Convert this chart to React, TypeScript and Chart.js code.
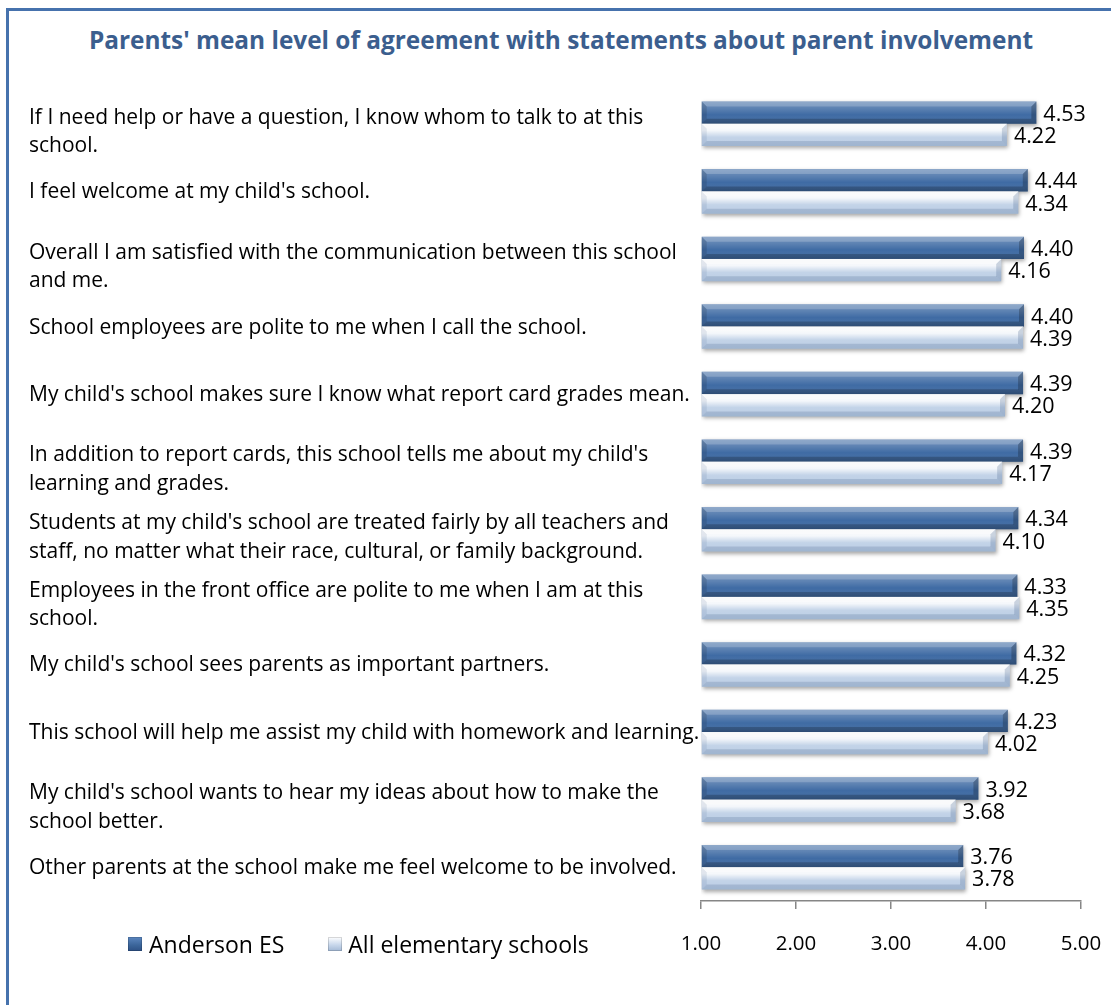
import React, { useEffect, useRef } from "react";
import { Chart, registerables } from "chart.js";
Chart.register(...registerables);

const titleText = "Parents' mean level of agreement with statements about parent involvement";
const seriesNames = ["Anderson ES", "All elementary schools"];
const categories: (string | string[])[] = [
  ["If I need help or have a question, I know whom to talk to at this", "school."],
  "I feel welcome at my child's school.",
  ["Overall I am satisfied with the communication between this school", "and me."],
  "School employees are polite to me when I call the school.",
  "My child's school makes sure I know what report card grades mean.",
  ["In addition to report cards, this school tells me about my child's", "learning and grades."],
  ["Students at my child's school are treated fairly by all teachers and", "staff, no matter what their race, cultural, or family background."],
  ["Employees in the front office are polite to me when I am at this", "school."],
  "My child's school sees parents as important partners.",
  "This school will help me assist my child with homework and learning.",
  ["My child's school wants to hear my ideas about how to make the", "school better."],
  "Other parents at the school make me feel welcome to be involved.",
];
const andersonValues = [4.53, 4.44, 4.4, 4.4, 4.39, 4.39, 4.34, 4.33, 4.32, 4.23, 3.92, 3.76];
const allSchoolsValues = [4.22, 4.34, 4.16, 4.39, 4.2, 4.17, 4.1, 4.35, 4.25, 4.02, 3.68, 3.78];
const xTickValues = [1, 2, 3, 4, 5];

const FONT = "'Open Sans', 'DejaVu Sans', sans-serif";
const DARK = "#3f6ba4";
const LIGHT = "#b9cce4";

const bevelPlugin = {
  id: "bevel",
  beforeDatasetsDraw(chart: any) {
    const ctx = chart.ctx;
    ctx.save();
    ctx.shadowColor = "rgba(0,0,0,0.35)";
    ctx.shadowBlur = 4;
    ctx.shadowOffsetX = 1;
    ctx.shadowOffsetY = 2;
  },
  afterDatasetsDraw(chart: any) {
    const ctx = chart.ctx;
    ctx.restore();
    chart.data.datasets.forEach((ds: any, di: number) => {
      const meta = chart.getDatasetMeta(di);
      const dark = di === 0;
      meta.data.forEach((el: any, i: number) => {
        const p = el.getProps(["x", "y", "base", "height"], true);
        const l = Math.min(p.base, p.x);
        const r = Math.max(p.base, p.x);
        const t = p.y - p.height / 2;
        const b = p.y + p.height / 2;
        const bv = 5;
        ctx.save();
        const g = ctx.createLinearGradient(0, t, 0, b);
        if (dark) {
          g.addColorStop(0, "rgba(255,255,255,0.28)");
          g.addColorStop(0.3, "rgba(255,255,255,0.16)");
          g.addColorStop(0.6, "rgba(255,255,255,0.0)");
          g.addColorStop(1, "rgba(0,0,0,0.12)");
        } else {
          g.addColorStop(0, "rgba(255,255,255,0.95)");
          g.addColorStop(0.3, "rgba(255,255,255,0.85)");
          g.addColorStop(0.6, "rgba(255,255,255,0.15)");
          g.addColorStop(1, "rgba(255,255,255,0.0)");
        }
        ctx.fillStyle = g;
        ctx.fillRect(l, t, r - l, b - t);
        // top bevel
        ctx.beginPath();
        ctx.moveTo(l, t); ctx.lineTo(r, t); ctx.lineTo(r - bv, t + bv); ctx.lineTo(l + bv, t + bv); ctx.closePath();
        ctx.fillStyle = dark ? "rgba(255,255,255,0.2)" : "rgba(255,255,255,0.3)";
        ctx.fill();
        // bottom bevel
        ctx.beginPath();
        ctx.moveTo(l, b); ctx.lineTo(r, b); ctx.lineTo(r - bv, b - bv); ctx.lineTo(l + bv, b - bv); ctx.closePath();
        ctx.fillStyle = dark ? "rgba(0,0,0,0.2)" : "rgba(60,90,130,0.2)";
        ctx.fill();
        // left bevel
        ctx.beginPath();
        ctx.moveTo(l, t); ctx.lineTo(l + bv, t + bv); ctx.lineTo(l + bv, b - bv); ctx.lineTo(l, b); ctx.closePath();
        ctx.fillStyle = dark ? "rgba(0,0,0,0.12)" : "rgba(70,100,140,0.12)";
        ctx.fill();
        // right bevel
        ctx.beginPath();
        ctx.moveTo(r, t); ctx.lineTo(r - bv, t + bv); ctx.lineTo(r - bv, b - bv); ctx.lineTo(r, b); ctx.closePath();
        ctx.fillStyle = dark ? "rgba(0,0,0,0.22)" : "rgba(70,100,140,0.25)";
        ctx.fill();
        ctx.restore();
        // value label
        ctx.save();
        ctx.font = `21.5px ${FONT}`;
        ctx.fillStyle = "#000";
        ctx.textAlign = "left";
        ctx.textBaseline = "middle";
        ctx.fillText(Number(ds.data[i]).toFixed(2), r + 7, p.y + 2);
        ctx.restore();
      });
    });
  },
};

function Marker({ dark }: { dark: boolean }) {
  return (
    <span
      style={{
        display: "inline-block",
        width: 14,
        height: 14,
        background: dark
          ? "linear-gradient(#5b86bf, #3a6499 60%, #2c5084)"
          : "linear-gradient(#ffffff, #c9d8ec 55%, #a3b9d6)",
        boxShadow: "inset 0 0 0 1px rgba(0,0,0,0.15)",
      }}
    />
  );
}

export default function App() {
  const ref = useRef<HTMLCanvasElement | null>(null);
  useEffect(() => {
    if (!ref.current) return;
    const chart = new Chart(ref.current, {
      type: "bar",
      data: {
        labels: categories,
        datasets: [
          { label: seriesNames[0], data: andersonValues, backgroundColor: DARK, base: 1 } as any,
          { label: seriesNames[1], data: allSchoolsValues, backgroundColor: LIGHT, base: 1 } as any,
        ],
      },
      options: {
        indexAxis: "y",
        responsive: false,
        animation: false,
        events: [],
        layout: { padding: { left: 29, right: 30, top: 90, bottom: 0 } },
        datasets: { bar: { categoryPercentage: 0.66, barPercentage: 1.0 } },
        plugins: {
          legend: { display: false },
          title: { display: false },
          tooltip: { enabled: false },
        },
        scales: {
          x: {
            min: 1,
            max: 5,
            afterBuildTicks: (s: any) => {
              s.ticks = xTickValues.map((v) => ({ value: v }));
            },
            afterFit: (s: any) => {
              s.height = 104;
              s.paddingLeft = 0;
              s.paddingRight = 0;
            },
            ticks: {
              callback: (v: any) => Number(v).toFixed(2),
              font: { family: FONT, size: 20.5 },
              color: "#000",
              padding: 23,
              maxRotation: 0,
            },
            grid: { display: true, drawOnChartArea: false, drawTicks: true, tickLength: 8, color: "#868686", lineWidth: 1.5 },
            border: { display: true, color: "#868686", width: 1.5 },
          },
          y: {
            afterFit: (s: any) => {
              s.width = 672;
              s.paddingTop = 0;
              s.paddingBottom = 0;
              if (!s.__shifted) {
                const orig = s.drawLabels;
                s.drawLabels = function (area: any) {
                  const items = this.getLabelItems(area);
                  for (const it of items) {
                    if (!it.__adj) {
                      const tr = it.options.translation;
                      tr[1] += Array.isArray(it.label) ? 8 : 1;
                      it.__adj = true;
                    }
                  }
                  orig.call(this, area);
                };
                s.__shifted = true;
              }
            },
            ticks: {
              autoSkip: false,
              crossAlign: "far",
              font: { family: FONT, size: 21, lineHeight: "28.5px" },
              color: "#000",
            },
            grid: { display: false },
            border: { display: false },
          },
        },
      },
      plugins: [bevelPlugin],
    });
    return () => chart.destroy();
  }, []);

  return (
    <div style={{ position: "absolute", left: 0, top: 0, width: 1111, height: 1005, overflow: "hidden", background: "#fff" }}>
      <div
        style={{
          position: "absolute",
          left: 6,
          top: 8,
          width: 1200,
          height: 1100,
          border: "3px solid #4672ad",
          boxSizing: "border-box",
        }}
      />
      <div
        style={{
          position: "absolute",
          left: 0,
          top: 23,
          width: 1122,
          textAlign: "center",
          fontFamily: FONT,
          fontWeight: 700,
          fontSize: 24.4,
          color: "#3b5e8e",
          whiteSpace: "nowrap",
        }}
      >
        {titleText}
      </div>
      <canvas ref={ref} width={1111} height={1005} style={{ position: "absolute", left: 0, top: 0, width: 1111, height: 1005 }} />
      <div
        style={{
          position: "absolute",
          left: 128,
          top: 928,
          fontFamily: FONT,
          fontSize: 23,
          color: "#000",
          display: "flex",
          alignItems: "center",
          whiteSpace: "nowrap",
        }}
      >
        <Marker dark={true} />
        <span style={{ marginLeft: 7 }}>{seriesNames[0]}</span>
        <span style={{ marginLeft: 44, display: "inline-flex", alignItems: "center" }}>
          <Marker dark={false} />
          <span style={{ marginLeft: 6 }}>{seriesNames[1]}</span>
        </span>
      </div>
    </div>
  );
}
